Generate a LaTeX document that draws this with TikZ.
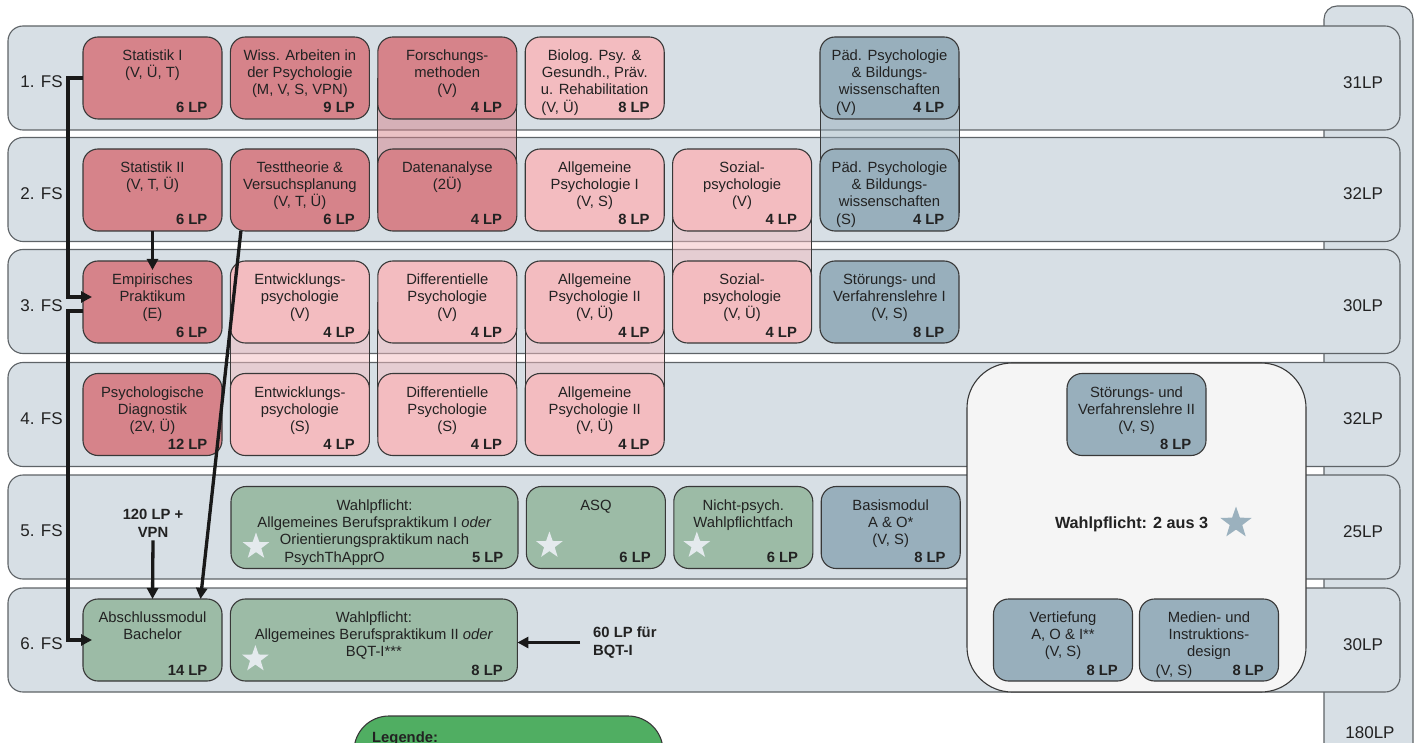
\documentclass[tikz,border=0pt]{standalone}
\usepackage{fontspec}
\setmainfont{Liberation Sans}
\usetikzlibrary{positioning,arrows.meta,shapes.geometric}
\definecolor{rowbg}{HTML}{D7DFE5}
\definecolor{rowln}{HTML}{5E6367}
\definecolor{modln}{HTML}{383838}
\definecolor{dred}{HTML}{D6838A}
\definecolor{lred}{HTML}{F3BCC0}
\definecolor{grn}{HTML}{9CBBA6}
\definecolor{bgr}{HTML}{98AFBC}
\definecolor{grpbg}{HTML}{F5F5F5}
\definecolor{leg}{HTML}{50AE62}
\definecolor{wstar}{HTML}{E4EAED}
\definecolor{bstar}{HTML}{9BB1BE}
\definecolor{txt}{HTML}{222222}
\newcommand\modfont{\fontsize{14.8}{17}\selectfont}
\pgfdeclarelayer{back}
\pgfdeclarelayer{mid}
\pgfsetlayers{back,mid,main}
\tikzset{
  semrow/.style={draw=rowln, fill=rowbg, line width=1.1pt, rounded corners=15pt, minimum width=1392pt, minimum height=104pt, inner sep=0pt},
  fslbl/.style={inner sep=0pt, font=\fontsize{17}{20}\selectfont},
  modbox/.style={draw=modln, line width=1.1pt, rounded corners=15pt, minimum width=139pt, minimum height=82pt, inner sep=0pt, outer sep=0pt},
  widebox/.style={modbox, minimum width=287pt},
  ttl/.style={anchor=north, align=center, inner sep=0pt, yshift=-13pt, font=\modfont},
  lp/.style={anchor=base east, inner sep=0pt, xshift=-14.5pt, yshift=6pt, font=\modfont\bfseries},
  note/.style={anchor=base west, inner sep=0pt, xshift=16pt, yshift=6pt, font=\modfont},
  lpline/.style={anchor=base, inner sep=0pt, yshift=6pt, font=\modfont},
  band/.style={draw=modln, line width=0.7pt, fill opacity=0.5},
  arr/.style={draw=black!90, line width=3.3pt, -{Triangle[length=11pt, width=11pt]}},
  wpstar/.style={shape=star, star points=5, star point ratio=2.5, fill=wstar, minimum size=28pt, inner sep=0pt},
  hint/.style={font=\fontsize{14.8}{18}\selectfont\bfseries, inner sep=3pt, align=center}}

\begin{document}
\begin{tikzpicture}[x=1pt, y=-1pt, node distance=8.4pt, text=txt]
\useasboundingbox (0,0) rectangle (1418,743);
\clip (0,0) rectangle (1418,743);
% semesters and totals
\begin{pgfonlayer}{back}
\node[draw=rowln, fill=rowbg, line width=1.1pt, rounded corners=13pt, minimum width=89pt, minimum height=760pt, inner sep=0pt] (total) at (1368.5,386) {};
\node[semrow] (fs1) at (704,78) {};
\node[semrow] (fs2) at (704,189.5) {};
\node[semrow] (fs3) at (704,301.5) {};
\node[semrow] (fs4) at (704,414.5) {};
\node[semrow] (fs5) at (704,527) {};
\node[semrow] (fs6) at (704,640) {};
\node[draw=modln, line width=1.1pt, fill=grpbg, rounded corners=45pt, minimum width=339pt, minimum height=329pt] (wpgrp) at (1136.5,527.5) {};
\end{pgfonlayer}
\node[fslbl] (fs1l) at (41.5,82) {1. FS};
\node[fslbl] (fs2l) at (41.5,193.5) {2. FS};
\node[fslbl] (fs3l) at (41.5,305.5) {3. FS};
\node[fslbl] (fs4l) at (41.5,418.5) {4. FS};
\node[fslbl] (fs5l) at (41.5,531) {5. FS};
\node[fslbl] (fs6l) at (41.5,644) {6. FS};
\node[fslbl] (fs1lp) at (1363,82.5) {31LP};
\node[fslbl] (fs2lp) at (1363,194) {32LP};
\node[fslbl] (fs3lp) at (1363,306) {30LP};
\node[fslbl] (fs4lp) at (1363,419) {32LP};
\node[fslbl] (fs5lp) at (1363,531.5) {25LP};
\node[fslbl] (fs6lp) at (1363,644.5) {30LP};
\node[fslbl] (totlp) at (1370,733) {180LP};
% 1. FS
\node[modbox, fill=dred, label={[ttl]north:{Statistik I\\(V, Ü, T)}}, label={[lp]south east:6 LP}] (stat1) at (152.5,78) {};
\node[modbox, fill=dred, right=of stat1, label={[ttl]north:{Wiss. Arbeiten in\\der Psychologie\\(M, V, S, VPN)}}, label={[lp]south east:9 LP}] (wiss) {};
\node[modbox, fill=dred, right=of wiss, label={[ttl]north:{Forschungs-\\methoden\\(V)}}, label={[lp]south east:4 LP}] (forsch) {};
\node[modbox, fill=lred, right=of forsch, label={[ttl]north:{Biolog. Psy. \&\\Gesundh., Präv.\\u. Rehabilitation}}, label={[note]south west:{(V, Ü)}}, label={[lp]south east:8 LP}] (biolog) {};
\node[modbox, fill=bgr, label={[ttl]north:{Päd. Psychologie\\\& Bildungs-\\wissenschaften}}, label={[note]south west:(V)}, label={[lp]south east:4 LP}] (paed1) at (889.5,78) {};
% 2. FS
\node[modbox, fill=dred, label={[ttl]north:{Statistik II\\(V, T, Ü)}}, label={[lp]south east:6 LP}] (stat2) at (152.5,190) {};
\node[modbox, fill=dred, right=of stat2, label={[ttl]north:{Testtheorie \&\\Versuchsplanung\\(V, T, Ü)}}, label={[lp]south east:6 LP}] (testth) {};
\node[modbox, fill=dred, right=of testth, label={[ttl]north:{Datenanalyse\\(2Ü)}}, label={[lp]south east:4 LP}] (datan) {};
\node[modbox, fill=lred, right=of datan, label={[ttl]north:{Allgemeine\\Psychologie I\\(V, S)}}, label={[lp]south east:8 LP}] (allg1) {};
\node[modbox, fill=lred, right=of allg1, label={[ttl]north:{Sozial-\\psychologie\\(V)}}, label={[lp]south east:4 LP}] (sozial1) {};
\node[modbox, fill=bgr, right=of sozial1, label={[ttl]north:{Päd. Psychologie\\\& Bildungs-\\wissenschaften}}, label={[note]south west:(S)}, label={[lp]south east:4 LP}] (paed2) {};
% 3. FS
\node[modbox, fill=dred, label={[ttl]north:{Empirisches\\Praktikum\\(E)}}, label={[lp]south east:6 LP}] (emp) at (152.5,302) {};
\node[modbox, fill=lred, right=of emp, label={[ttl]north:{Entwicklungs-\\psychologie\\(V)}}, label={[lp]south east:4 LP}] (entw1) {};
\node[modbox, fill=lred, right=of entw1, label={[ttl]north:{Differentielle\\Psychologie\\(V)}}, label={[lp]south east:4 LP}] (diff1) {};
\node[modbox, fill=lred, right=of diff1, label={[ttl]north:{Allgemeine\\Psychologie II\\(V, Ü)}}, label={[lp]south east:4 LP}] (allg2a) {};
\node[modbox, fill=lred, right=of allg2a, label={[ttl]north:{Sozial-\\psychologie\\(V, Ü)}}, label={[lp]south east:4 LP}] (sozial2) {};
\node[modbox, fill=bgr, right=of sozial2, label={[ttl]north:{Störungs- und\\Verfahrenslehre I\\(V, S)}}, label={[lp]south east:8 LP}] (stoer1) {};
% 4. FS
\node[modbox, fill=dred, label={[ttl]north:{Psychologische\\Diagnostik\\(2V, Ü)}}, label={[lp]south east:12 LP}] (diag) at (152.5,414.5) {};
\node[modbox, fill=lred, right=of diag, label={[ttl]north:{Entwicklungs-\\psychologie\\(S)}}, label={[lp]south east:4 LP}] (entw2) {};
\node[modbox, fill=lred, right=of entw2, label={[ttl]north:{Differentielle\\Psychologie\\(S)}}, label={[lp]south east:4 LP}] (diff2) {};
\node[modbox, fill=lred, right=of diff2, label={[ttl]north:{Allgemeine\\Psychologie II\\(V, Ü)}}, label={[lp]south east:4 LP}] (allg2b) {};
\node[modbox, fill=bgr, label={[ttl]north:{Störungs- und\\Verfahrenslehre II\\(V, S)}}, label={[lp]south east:8 LP}] (stoer2) at (1136.5,414.5) {};
% 5. FS
\node[widebox, fill=grn, label={[ttl]north:{Wahlpflicht:\\Allgemeines Berufspraktikum I \emph{oder}\\Orientierungspraktikum nach}}, label={[lpline, xshift=-40pt]south:PsychThApprO}, label={[lp]south east:5 LP}] (wp1) at (374.5,527.5) {};
\node[modbox, fill=grn, right=of wp1, label={[ttl]north:ASQ}, label={[lp]south east:6 LP}] (asq) {};
\node[modbox, fill=grn, right=of asq, label={[ttl]north:{Nicht-psych.\\Wahlpflichtfach}}, label={[lp]south east:6 LP}] (nichtp) {};
\node[modbox, fill=bgr, right=of nichtp, label={[ttl]north:{Basismodul\\A \& O*\\(V, S)}}, label={[lp]south east:8 LP}] (basis) {};
% 6. FS
\node[modbox, fill=grn, label={[ttl]north:{Abschlussmodul\\Bachelor}}, label={[lp]south east:14 LP}] (absch) at (152.5,640) {};
\node[widebox, fill=grn, right=of absch, label={[ttl]north:{Wahlpflicht:\\Allgemeines Berufspraktikum II \emph{oder}\\BQT-I***}}, label={[lp]south east:8 LP}] (wp2) {};
\node[modbox, fill=bgr, label={[ttl]north:{Vertiefung\\A, O \& I**\\(V, S)}}, label={[lp]south east:8 LP}] (vert) at (1063,640) {};
\node[modbox, fill=bgr, right=7pt of vert, label={[ttl]north:{Medien- und\\Instruktions-\\design}}, label={[note]south west:{(V, S)}}, label={[lp]south east:8 LP}] (medien) {};
% modules running over two semesters
\begin{pgfonlayer}{mid}
\draw[band, fill=dred] (forsch.west) rectangle ([yshift=-22pt]datan.east);
\draw[band, fill=bgr] (paed1.west) rectangle ([yshift=-22pt]paed2.east);
\draw[band, fill=lred] (sozial1.west) rectangle ([yshift=-22pt]sozial2.east);
\draw[band, fill=lred] (entw1.west) rectangle ([yshift=-22pt]entw2.east);
\draw[band, fill=lred] (diff1.west) rectangle ([yshift=-22pt]diff2.east);
\draw[band, fill=lred] (allg2a.west) rectangle ([yshift=-22pt]allg2b.east);
\end{pgfonlayer}
% stars
\node[wpstar] (st1) at ([xshift=25pt, yshift=22pt]wp1.south west) {};
\node[wpstar] (st2) at ([xshift=23pt, yshift=23pt]asq.south west) {};
\node[wpstar] (st3) at ([xshift=23pt, yshift=23pt]nichtp.south west) {};
\node[wpstar] (st4) at ([xshift=25pt, yshift=22pt]wp2.south west) {};
\node[font=\fontsize{16.2}{19}\selectfont\bfseries, inner sep=0pt] (wptxt) at (1131.5,524) {Wahlpflicht: 2 aus 3};
\node[wpstar, fill=bstar, minimum size=33pt] (wpst) at (1236,523) {};
% prerequisites
\node[hint] (vpn) at (153,523) {120 LP +\\VPN};
\node[hint, anchor=west, align=left] (bqt) at (590,642.5) {60 LP für\\BQT-I};
\draw[arr] (stat1.west) -- ++(-15,0) |- ([xshift=9pt, yshift=5pt]emp.west);
\draw[arr] ([yshift=-9pt]emp.west) -- ++(-15,0) |- ([xshift=9pt]absch.west);
\draw[arr] (stat2.south) -- ([yshift=-9pt]emp.north);
\draw[arr] ([xshift=-59pt]testth.south) -- ([xshift=48pt]absch.north);
\draw[arr] (vpn.south) -- (absch.north);
\draw[arr] ([xshift=-10pt]bqt.west) -- (bqt.west -| wp2.east);
% legend
\node[draw=modln, line width=1.1pt, fill=leg, rounded corners=35pt, minimum width=309pt, minimum height=120pt] (legend) at (508.5,776) {};
\node[font=\modfont\bfseries, anchor=base west, inner sep=0pt] (legtitle) at (372,742) {Legende:};
\end{tikzpicture}
\end{document}
